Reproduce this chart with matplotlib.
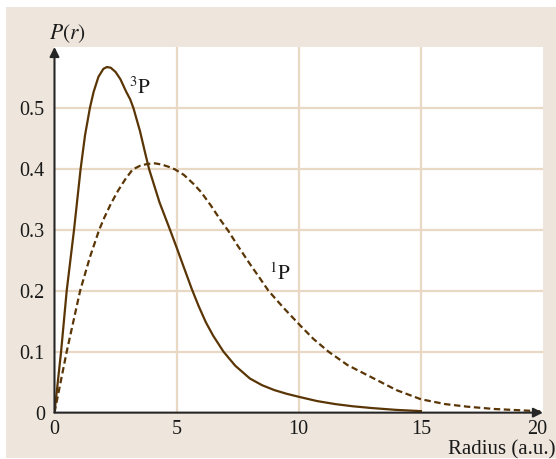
import matplotlib
matplotlib.use("Agg")
import matplotlib.pyplot as plt
from matplotlib.patches import Rectangle
from matplotlib.transforms import ScaledTranslation

plt.rcParams["font.family"] = ["Liberation Serif", "DejaVu Serif"]
plt.rcParams["mathtext.fontset"] = "stix"

# 3P curve (solid)
r_3p = [0, 0.27, 0.5, 0.8, 1.07, 1.25, 1.45, 1.6, 1.8, 2.0, 2.14, 2.3, 2.5, 2.7,
        2.93, 3.1, 3.23, 3.5, 3.7, 3.87, 4.3, 4.73, 5.0, 5.3, 5.62, 5.9, 6.2, 6.5, 6.92,
        7.4, 8.0, 8.5, 9.0, 9.5, 10.0, 10.75, 11.5, 12.2, 13.0, 14.0, 15.0]
p_3p = [0, 0.1, 0.2, 0.3, 0.4, 0.455, 0.5, 0.526, 0.551, 0.564, 0.567, 0.566, 0.559, 0.547,
        0.527, 0.514, 0.5, 0.462, 0.428, 0.4, 0.345, 0.3, 0.271, 0.238, 0.203, 0.175, 0.148,
        0.126, 0.1, 0.077, 0.056, 0.045, 0.037, 0.031, 0.026, 0.019, 0.014, 0.0105, 0.0075,
        0.0045, 0.0025]

# 1P curve (dashed)
r_1p = [0, 0.5, 1.05, 1.45, 1.83, 2.04, 2.3, 2.6, 2.9, 3.2, 3.5, 3.8, 4.12, 4.4,
        4.7, 4.94, 5.3, 5.7, 6.0, 6.4, 6.78, 7.12, 7.5, 8.0, 8.4, 8.76, 9.4,
        10.06, 10.6, 11.22, 12.0, 12.93, 14.0, 15.0, 16.0, 16.9, 18.0, 19.0, 20.0]
p_1p = [0, 0.1, 0.2, 0.255, 0.3, 0.32, 0.342, 0.364, 0.383, 0.399, 0.405, 0.408, 0.409, 0.407,
        0.403, 0.399, 0.39, 0.375, 0.362, 0.34, 0.317, 0.298, 0.274, 0.244, 0.221, 0.2, 0.171,
        0.143, 0.121, 0.1, 0.078, 0.059, 0.037, 0.022, 0.014, 0.0098, 0.006, 0.004, 0.002]

xticks = [0, 5, 10, 15, 20]
yticks = [0, 0.1, 0.2, 0.3, 0.4, 0.5]
ytick_labels = ["0", "0.1", "0.2", "0.3", "0.4", "0.5"]

line_col = "#5a3505"
grid_col = "#e8d8c4"
bg_col = "#eee6dc"
axis_col = "#262626"

fig = plt.figure(figsize=(5.56, 4.59), dpi=100, facecolor="white")
fig.patches.append(Rectangle((6 / 556, 1 / 459), 1, 451 / 459, transform=fig.transFigure,
                             facecolor=bg_col, edgecolor="none", zorder=-10))

ax = fig.add_axes([0.098, 0.101, 0.8786, 0.7967])
ax.set_facecolor("white")
ax.set_xlim(0, 20)
ax.set_ylim(0, 0.6)

for x in xticks[1:-1]:
    ax.axvline(x, color=grid_col, lw=1.6, zorder=0)
for y in yticks[1:]:
    ax.axhline(y, color=grid_col, lw=1.6, zorder=0)

ax.plot(r_3p, p_3p, color=line_col, lw=1.6, solid_joinstyle="round", zorder=3)
ax.plot(r_1p, p_1p, color=line_col, lw=1.6, linestyle=(0, (2.9, 1.6)), zorder=3)

for s in ax.spines.values():
    s.set_visible(False)

ax.annotate("", xy=(1, 0), xytext=(0, 0), xycoords="axes fraction",
            arrowprops=dict(arrowstyle="-|>", color=axis_col, lw=1.5,
                            mutation_scale=14, shrinkA=0, shrinkB=0), zorder=5)
ax.annotate("", xy=(0, 1), xytext=(0, 0), xycoords="axes fraction",
            arrowprops=dict(arrowstyle="-|>", color=axis_col, lw=1.5,
                            mutation_scale=14, shrinkA=0, shrinkB=0), zorder=5)

ax.set_xticks(xticks)
ax.set_xticklabels([str(t) for t in xticks])
ax.set_yticks(yticks)
ax.set_yticklabels(ytick_labels)
ax.tick_params(length=0, labelsize=14.5, colors="#1a1a1a")
ax.tick_params(axis="x", pad=5)
ax.tick_params(axis="y", pad=7)

# last x label sits a bit left of its tick, as in the original
last = ax.get_xticklabels()[-1]
last.set_transform(last.get_transform() + ScaledTranslation(-0.06, 0, fig.dpi_scale_trans))

ax.text(3.5, 0.533, "$^{3}\\mathrm{P}$", fontsize=15, ha="center", va="center", color="#1a1a1a")
ax.text(9.24, 0.228, "$^{1}\\mathrm{P}$", fontsize=15, ha="center", va="center", color="#1a1a1a")

ax.text(0.0256, 1.0356, "$P(r)$", transform=ax.transAxes, fontsize=15.5,
        ha="center", va="center", color="#1a1a1a")
fig.text(555 / 556, 1 - 449.5 / 459, "Radius (a.u.)", fontsize=15, ha="right",
         va="center", color="#1a1a1a")

fig.savefig("out.png", dpi=100, facecolor=fig.get_facecolor())
